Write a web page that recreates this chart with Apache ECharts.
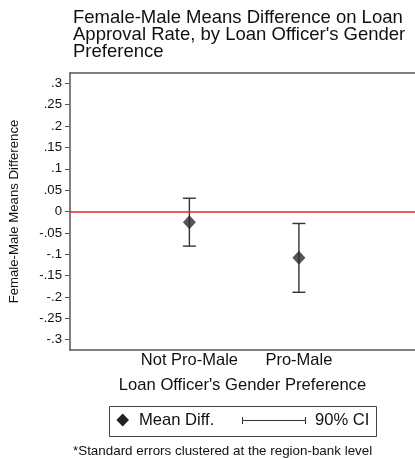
<!DOCTYPE html>
<html><head><meta charset="utf-8">
<script src="https://cdn.jsdelivr.net/npm/echarts@6/dist/echarts.min.js"></script>
<style>html,body{margin:0;padding:0;background:#fff}#c{width:415px;height:459px}</style>
</head><body><div id="c"></div>
<script>
const categories = ['Not Pro-Male', 'Pro-Male'];
const catPos = [1, 2];
const meanDiff = [-0.025, -0.108];
const ciLow = [-0.081, -0.189];
const ciHigh = [0.031, -0.028];
const yTicks = [-0.3, -0.25, -0.2, -0.15, -0.1, -0.05, 0, 0.05, 0.1, 0.15, 0.2, 0.25, 0.3];

const FONT = '"Liberation Sans", Arial, sans-serif';
const fmt = v => { const r = Math.round(v * 100) / 100; if (r === 0) return '0'; let s = String(Math.abs(r)).replace(/^0/, ''); return (r < 0 ? '-' : '') + s; };
const frame = {show: true, onZero: false, lineStyle: {color: '#555', width: 1.5}};

const chart = echarts.init(document.getElementById('c'), null, {renderer: 'canvas'});
chart.setOption({
  animation: false,
  backgroundColor: '#fff',
  textStyle: {fontFamily: FONT},
  title: {
    text: 'Female-Male Means Difference on Loan\nApproval Rate, by Loan Officer\'s Gender\nPreference',
    left: 73, top: 10, padding: 0,
    textStyle: {fontFamily: FONT, fontSize: 18.5, fontWeight: 'normal', color: '#111', lineHeight: 16.7}
  },
  grid: {left: 70, right: 0, top: 73, bottom: 109, show: false, containLabel: false, outerBoundsMode: 'none'},
  xAxis: [{
    type: 'value', min: -0.09, max: 3.06, position: 'bottom',
    splitLine: {show: false}, axisLine: frame, axisTick: {show: false},
    axisLabel: {customValues: catPos, formatter: v => categories[catPos.indexOf(v)] || '', fontSize: 16.5, color: '#111', margin: 2, fontFamily: FONT},
    name: "Loan Officer's Gender Preference", nameLocation: 'middle', nameGap: 27,
    nameTextStyle: {fontSize: 16.6, color: '#111', fontFamily: FONT}
  }, {
    type: 'value', min: -0.09, max: 3.06, position: 'top',
    splitLine: {show: false}, axisLine: frame, axisTick: {show: false}, axisLabel: {show: false}
  }],
  yAxis: {
    type: 'value', min: -0.324, max: 0.324,
    splitLine: {show: false},
    axisLine: frame,
    axisTick: {show: true, customValues: yTicks, length: 5, lineStyle: {color: '#555', width: 1}},
    axisLabel: {customValues: yTicks, formatter: fmt, fontSize: 13.2, color: '#111', margin: 8, fontFamily: FONT},
    name: 'Female-Male Means Difference', nameLocation: 'middle', nameGap: 49.5,
    nameTextStyle: {fontSize: 13.2, color: '#111', fontFamily: FONT}
  },
  series: [
    {
      type: 'line', data: [], silent: true,
      markLine: {silent: true, symbol: 'none', label: {show: false},
        lineStyle: {color: '#e8202a', width: 1.5, type: 'solid'}, data: [{yAxis: 0}]}
    },
    {
      type: 'custom', name: '90% CI',
      data: catPos.map((x, i) => [x, ciLow[i], ciHigh[i]]),
      renderItem: (params, api) => {
        const x = api.value(0);
        const lo = api.coord([x, api.value(1)]);
        const hi = api.coord([x, api.value(2)]);
        const w = 6.5;
        const st = {stroke: '#333', lineWidth: 1.4};
        return {type: 'group', children: [
          {type: 'line', shape: {x1: lo[0], y1: lo[1], x2: hi[0], y2: hi[1]}, style: st},
          {type: 'line', shape: {x1: lo[0] - w, y1: lo[1], x2: lo[0] + w, y2: lo[1]}, style: st},
          {type: 'line', shape: {x1: hi[0] - w, y1: hi[1], x2: hi[0] + w, y2: hi[1]}, style: st}
        ]};
      }
    },
    {
      type: 'scatter', name: 'Mean Diff.',
      data: catPos.map((x, i) => [x, meanDiff[i]]),
      symbol: 'diamond', symbolSize: [13, 14],
      itemStyle: {color: '#2b2b2b'}
    }
  ],
  graphic: [
    {type: 'rect', shape: {x: 109.5, y: 406.5, width: 267, height: 30}, style: {fill: '#fff', stroke: '#444', lineWidth: 1}},
    {type: 'polygon', shape: {points: [[122.7, 413.5], [129, 420], [122.7, 426.5], [116.4, 420]]}, style: {fill: '#222'}},
    {type: 'text', left: 139, top: 412, style: {text: 'Mean Diff.', font: '16.6px ' + FONT, fill: '#111'}},
    {type: 'line', shape: {x1: 242, y1: 420.5, x2: 306, y2: 420.5}, style: {stroke: '#333', lineWidth: 1}},
    {type: 'line', shape: {x1: 242.5, y1: 417, x2: 242.5, y2: 424}, style: {stroke: '#333', lineWidth: 1}},
    {type: 'line', shape: {x1: 305.5, y1: 417, x2: 305.5, y2: 424}, style: {stroke: '#333', lineWidth: 1}},
    {type: 'text', left: 315, top: 412, style: {text: '90% CI', font: '16.6px ' + FONT, fill: '#111'}},
    {type: 'text', left: 73, top: 445, style: {text: '*Standard errors clustered at the region-bank level', font: '13.4px ' + FONT, fill: '#111'}}
  ]
});
</script></body></html>
